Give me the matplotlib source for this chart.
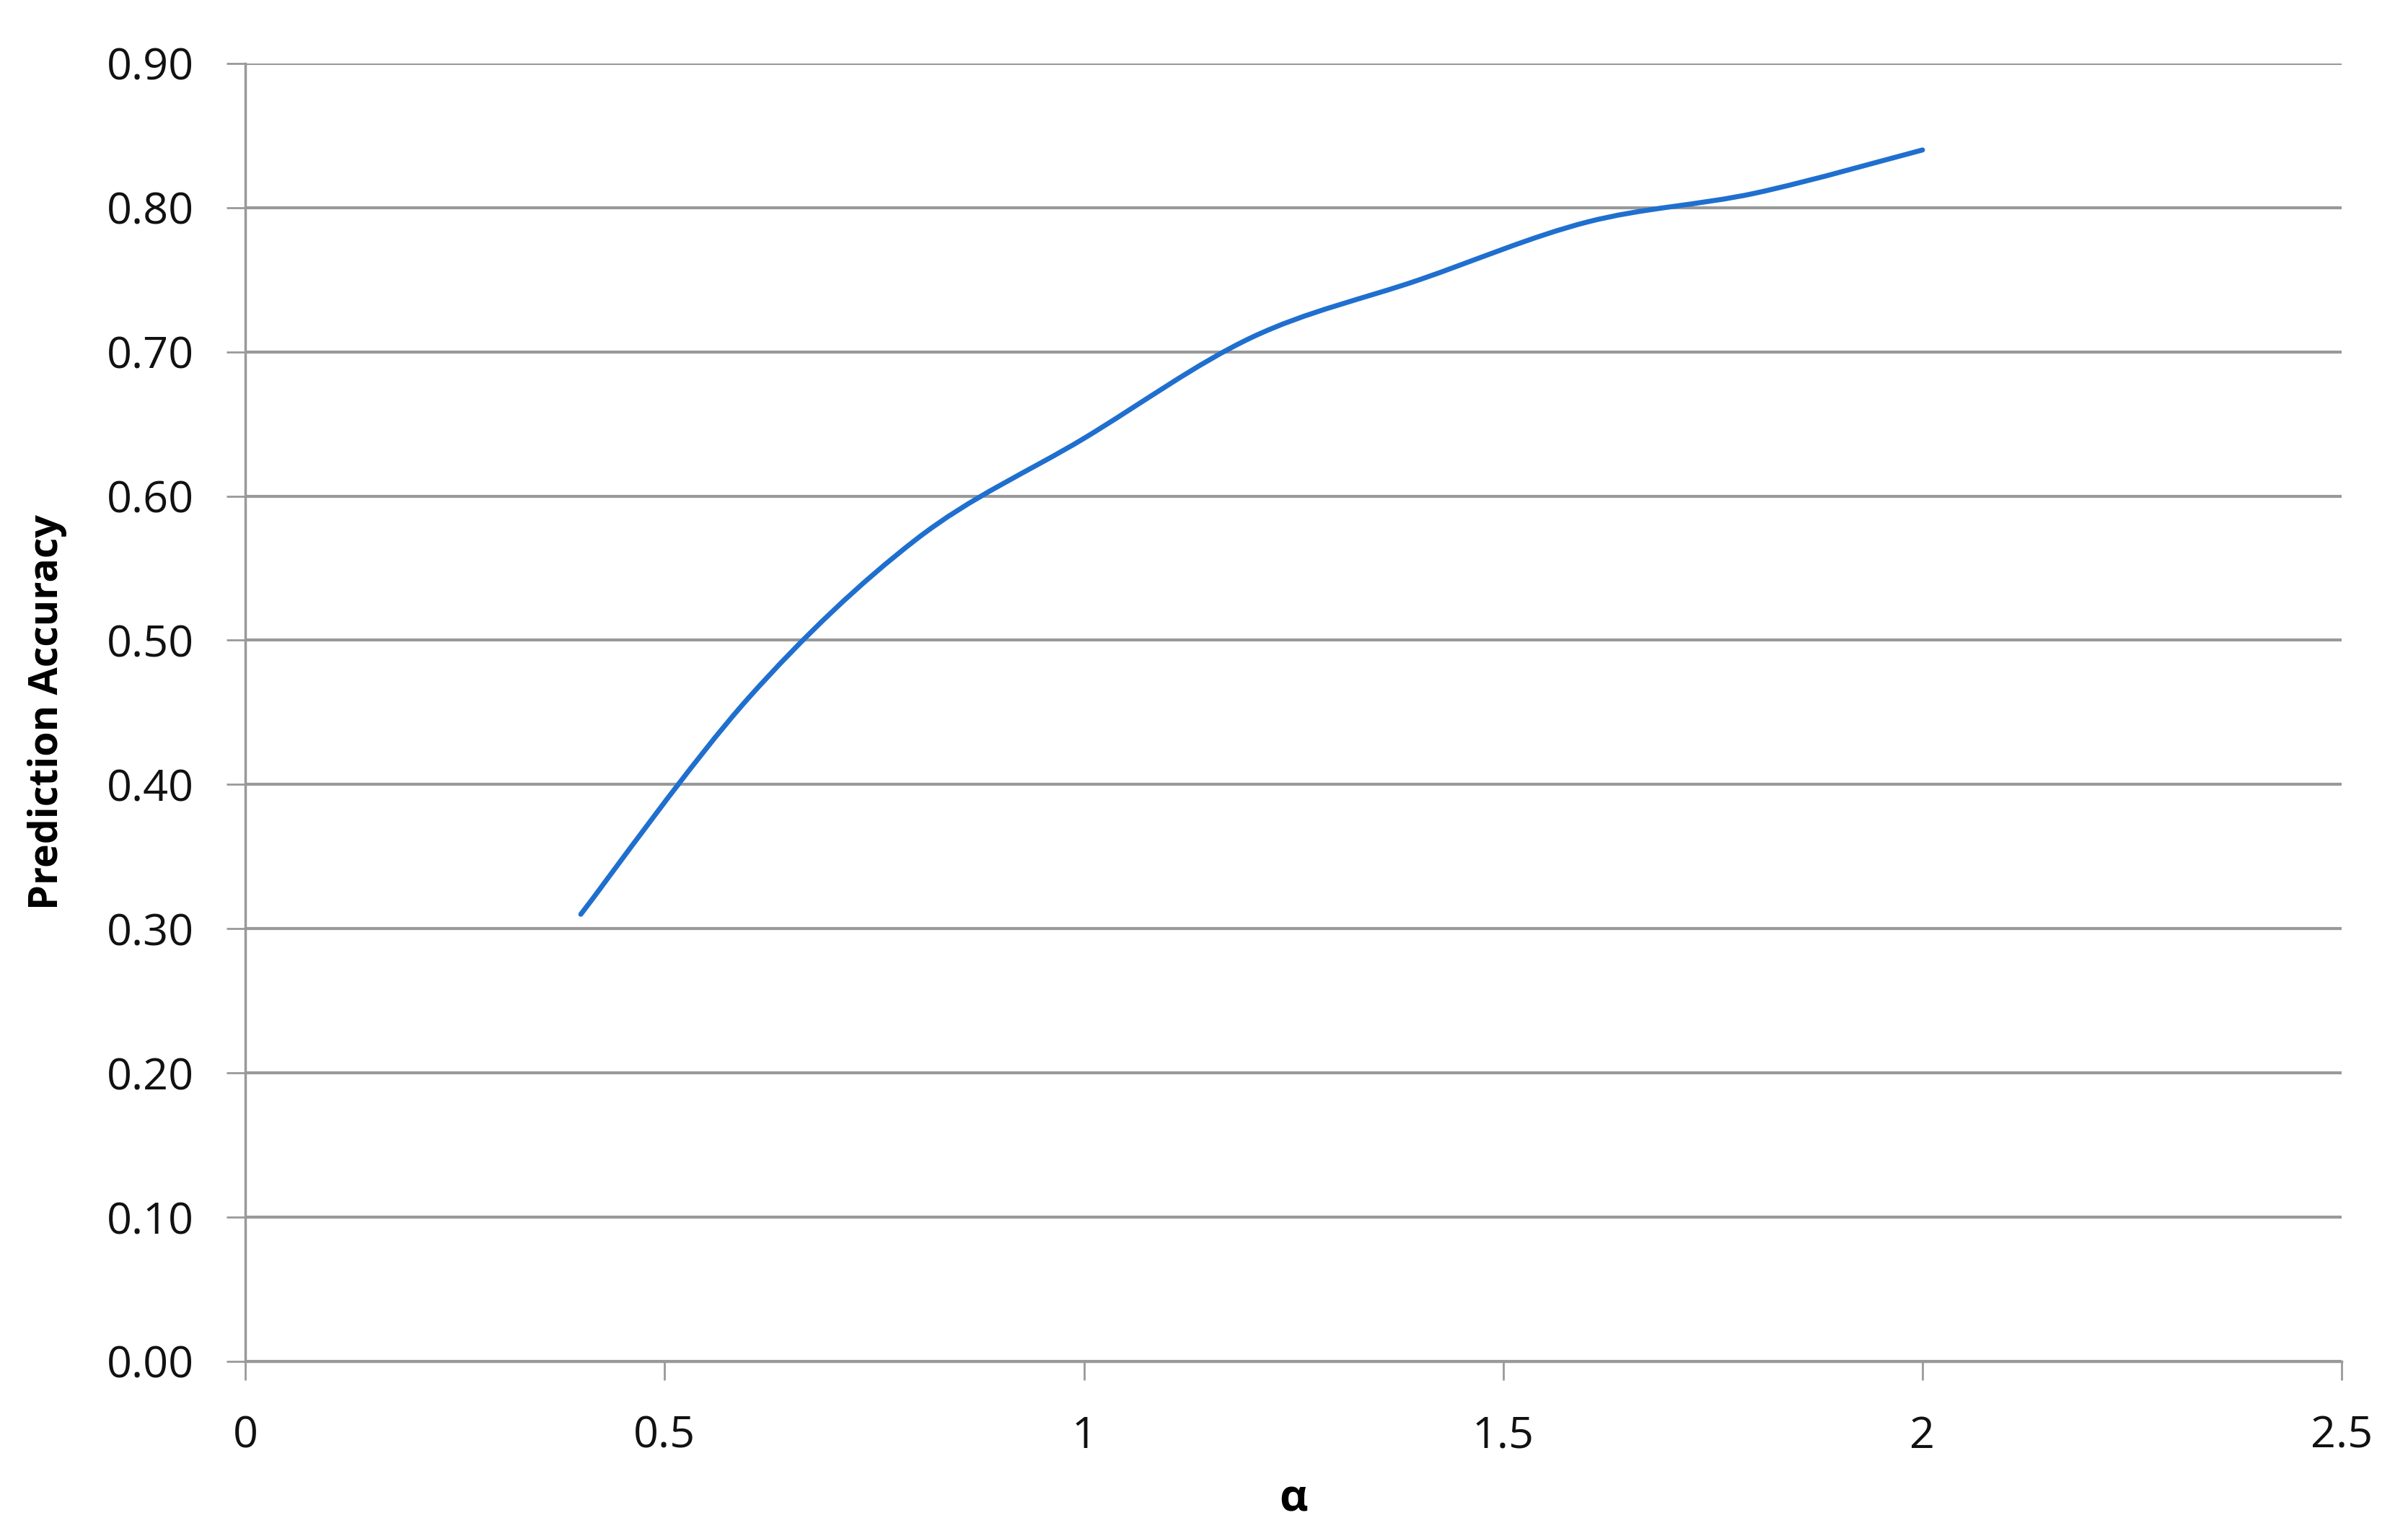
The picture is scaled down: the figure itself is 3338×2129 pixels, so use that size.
import numpy as np
import matplotlib
matplotlib.use("Agg")
import matplotlib.pyplot as plt
from matplotlib.path import Path
from matplotlib.patches import PathPatch

# valores
alpha = [0.4, 0.6, 0.8, 1.0, 1.2, 1.4, 1.6, 1.8, 2.0]
accuracy = [0.31, 0.46, 0.57, 0.64, 0.71, 0.75, 0.79, 0.81, 0.84]

x_ticks = [0, 0.5, 1, 1.5, 2, 2.5]
x_labels = ["0", "0.5", "1", "1.5", "2", "2.5"]
y_ticks = [0.0, 0.1, 0.2, 0.3, 0.4, 0.5, 0.6, 0.7, 0.8, 0.9]
y_labels = ["%.2f" % v for v in y_ticks]

GRID = "#999999"
LINE = "#1f6fcf"


def smooth_path(xs, ys):
    # linea suavizada tipo Excel (Catmull-Rom -> Bezier)
    pts = np.column_stack([xs, ys])
    n = len(pts)
    verts = [pts[0]]
    codes = [Path.MOVETO]
    for i in range(n - 1):
        p0 = pts[max(i - 1, 0)]
        p1 = pts[i]
        p2 = pts[i + 1]
        p3 = pts[min(i + 2, n - 1)]
        c1 = p1 + (p2 - p0) / 6.0
        c2 = p2 - (p3 - p1) / 6.0
        verts += [c1, c2, p2]
        codes += [Path.CURVE4] * 3
    return Path(verts, codes)


plt.rcParams["font.family"] = ["Open Sans", "DejaVu Sans"]

fig = plt.figure(figsize=(33.38, 21.29), dpi=100)
ax = fig.add_axes([0.1019, 0.1137, 0.8706, 0.845])

patch = PathPatch(smooth_path(alpha, accuracy), fill=False, edgecolor=LINE,
                  lw=5, capstyle="round", joinstyle="round", zorder=3)
ax.add_patch(patch)

ax.set_xlim(0, 2.5)
ax.set_ylim(0, 0.9)
ax.set_xticks(x_ticks)
ax.set_xticklabels(x_labels)
ax.set_yticks(y_ticks)
ax.set_yticklabels(y_labels)

ax.yaxis.grid(True, color=GRID, lw=3)
ax.set_axisbelow(True)
for s in ["top", "right"]:
    ax.spines[s].set_visible(False)
for s in ["left", "bottom"]:
    ax.spines[s].set_color(GRID)
    ax.spines[s].set_linewidth(2.5)

ax.tick_params(axis="both", colors=GRID, width=2, length=19, labelsize=44,
               labelcolor="#111111")
ax.tick_params(axis="y", pad=32)
ax.tick_params(axis="x", pad=34)

ax.set_xlabel("α", fontsize=44, fontweight="bold", labelpad=20)
ax.set_ylabel("Prediction Accuracy", fontsize=40, fontweight="bold", labelpad=40)

fig.savefig("out.png", dpi=100, facecolor="white")
plt.close()
